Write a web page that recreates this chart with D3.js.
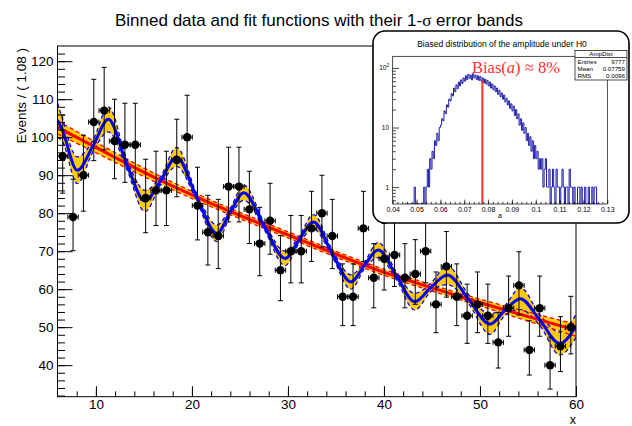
<!DOCTYPE html>
<html>
<head>
<meta charset="utf-8">
<script src="https://cdn.jsdelivr.net/npm/d3@7"></script>
<style>
body{margin:0;background:#fff}
svg text{font-family:"Liberation Sans",Arial,Helvetica,sans-serif;fill:#000}
</style>
</head>
<body>
<div id="chart"></div>
<script>
// binned data (events per bin of 1.08)
var binLow = 6, binWidth = 1.08;
var counts = [95,79,90,104,107,99,98,98,84,86,86,94,100,82,75,74,87,87,81,72,
              78,65,70,70,76,80,74,58,58,76,63,68,69,63,64,70,56,66,58,53,
              56,53,46,55,61,44,55,40,45,50];

// background fit (red)
var bkgX = [6, 10, 15.6, 20.8, 30, 39.6, 50, 60];
var bkgY = [102.6, 97.3, 90.0, 83.9, 74.3, 64.8, 56.5, 49.2];
var bkgErr = [1.7, 1.4, 1.1, 0.9, 0.8, 0.8, 0.9, 1.6];

// signal+background fit (blue): extrema and crossings
var sigX = [6.0,6.5,8.06,9.68,11.3,13.2,15.1,16.75,18.4,20.5,22.6,24.0,25.4,27.55,29.7,31.15,
            32.65,34.6,36.55,38.0,39.4,41.3,43.2,44.9,46.6,48.8,51.05,52.6,54.2,56.25,58.3,60.0];
var sigY = [104.5,101.9,91.3,97.6,104.7,93.0,83.2,88.6,94.8,84.2,74.7,80.3,85.4,76.5,68.1,72.9,
            77.7,69.5,61.9,66.4,70.3,63.5,56.7,60.5,63.7,57.4,50.8,54.4,57.5,51.8,45.7,50.3];
var sigErr = [4.5,3.0,3.5,1.5,3.3,1.3,2.8,1.1,2.5,1.0,2.2,1.0,2.0,0.9,1.9,0.9,
              1.9,0.9,1.9,0.9,2.0,1.0,2.2,1.1,2.5,1.2,2.7,1.3,2.9,1.4,3.0,3.0];

var xTicks = [10,20,30,40,50,60];
var yTicks = [40,50,60,70,80,90,100,110,120];

// inset histogram
var ampLow = 0.045, ampWidth = 0.0005;
var ampCounts = [0,0,0,0,0,0,0,0,1,0,
                 0,0,0,0,0,0,1,0,1,2,
                 1,3,2,4,3,6,5,8,6,10,
                 11,14,13,19,17,24,22,30,28,37,
                 34,46,40,52,45,58,50,63,55,68,
                 60,74,64,78,67,76,63,80,68,76,
                 64,74,62,72,60,68,56,65,54,62,
                 50,58,46,54,43,50,40,46,36,42,
                 33,38,30,35,27,31,24,28,21,25,
                 19,23,16,20,14,17,11,14,9,12,
                 8,10,6,8,5,7,4,6,3,5,
                 3,4,2,3,2,3,1,2,3,1,
                 1,2,0,1,2,1,0,2,1,1,
                 0,1,2,1,0,1,1,0,2,1,
                 1,0,1,0,0,1,1,0,1,0,
                 0,1,0,0,1,0,0,1,0,1,
                 1,0,0,0];
var ampTicks = [0.04,0.05,0.06,0.07,0.08,0.09,0.1,0.11,0.12,0.13];
var ampStats = [["Entries","9777"],["Mean","0.07759"],["RMS","0.0096"]];
var ampMean = 0.07759, biasTop = 62;

var W = 632, H = 426;
var svg = d3.select('#chart').append('svg').attr('width', W).attr('height', H);

var x = d3.scaleLinear().domain([6, 60]).range([57.5, 576]);
var y = d3.scaleLinear().domain([31.7, 124]).range([396.7, 46]);

svg.append('clipPath').attr('id','frameClip').append('rect')
  .attr('x', x(6)).attr('y', y(124)).attr('width', x(60)-x(6)).attr('height', y(31.7)-y(124));
var plot = svg.append('g').attr('clip-path','url(#frameClip)');

var bkg = d3.range(bkgX.length).map(function(i){ return {x:bkgX[i], y:bkgY[i], e:bkgErr[i]}; });
var sig = d3.range(sigX.length).map(function(i){ return {x:sigX[i], y:sigY[i], e:sigErr[i]}; });
var crv = d3.curveMonotoneX;

function band(d){ return d3.area().curve(crv).x(function(p){return x(p.x);})
  .y0(function(p){return y(p.y-p.e);}).y1(function(p){return y(p.y+p.e);})(d); }
function edge(d, s){ return d3.line().curve(crv).x(function(p){return x(p.x);})
  .y(function(p){return y(p.y+s*p.e);})(d); }
function mid(d){ return d3.line().curve(crv).x(function(p){return x(p.x);}).y(function(p){return y(p.y);})(d); }

plot.append('path').attr('d', band(bkg)).attr('fill', '#ffcc00');
plot.append('path').attr('d', band(sig)).attr('fill', '#ffcc00');
[1,-1].forEach(function(s){
  plot.append('path').attr('d', edge(bkg, s)).attr('fill','none').attr('stroke','#ff0000')
    .attr('stroke-width',1.3).attr('stroke-dasharray','4,3');
  plot.append('path').attr('d', edge(sig, s)).attr('fill','none').attr('stroke','#0000ff')
    .attr('stroke-width',1.3).attr('stroke-dasharray','4,3');
});
plot.append('path').attr('d', mid(bkg)).attr('fill','none').attr('stroke','#ff0000').attr('stroke-width',3);
plot.append('path').attr('d', mid(sig)).attr('fill','none').attr('stroke','#0000ff').attr('stroke-width',3);

// poisson 68% interval (Wilson-Hilferty)
function lowErr(n){ return n*Math.pow(1-1/(9*n)-1/(3*Math.sqrt(n)),3); }
function upErr(n){ var m=n+1; return m*Math.pow(1-1/(9*m)+1/(3*Math.sqrt(m)),3); }

var pts = plot.selectAll('.pt').data(counts).enter().append('g').attr('class','pt');
pts.each(function(n, i){
  var g = d3.select(this);
  var cx = x(binLow + binWidth*(i+0.5)), cy = y(n);
  var xl = x(binLow + binWidth*i), xr = x(binLow + binWidth*(i+1));
  var yl = y(lowErr(n)), yu = y(upErr(n));
  var st = {stroke:'#000','stroke-width':1};
  function ln(x1,y1,x2,y2){ var l=g.append('line').attr('x1',x1).attr('y1',y1).attr('x2',x2).attr('y2',y2);
    for (var k in st) l.attr(k, st[k]); }
  ln(cx, yu, cx, yl); ln(cx-2.5, yu, cx+2.5, yu); ln(cx-2.5, yl, cx+2.5, yl);
  ln(xl, cy, xr, cy); ln(xl, cy-2.5, xl, cy+2.5); ln(xr, cy-2.5, xr, cy+2.5);
  g.append('circle').attr('cx', cx).attr('cy', cy).attr('r', 4.2).attr('fill', '#000');
});

// frame and axes
svg.append('rect').attr('x', x(6)).attr('y', y(124)).attr('width', x(60)-x(6)).attr('height', y(31.7)-y(124))
  .attr('fill','none').attr('stroke','#000').attr('stroke-width',1);

var ax = svg.append('g').attr('transform','translate(0,'+y(31.7)+')')
  .call(d3.axisBottom(x).tickValues(xTicks).tickSize(-10.5).tickPadding(3));
svg.append('g').attr('transform','translate(0,'+y(31.7)+')')
  .call(d3.axisBottom(x).tickValues(d3.range(8, 60, 2)).tickSize(-5.3).tickFormat(''));
var ay = svg.append('g').attr('transform','translate('+x(6)+',0)')
  .call(d3.axisLeft(y).tickValues(yTicks).tickSize(-15).tickPadding(4));
svg.append('g').attr('transform','translate('+x(6)+',0)')
  .call(d3.axisLeft(y).tickValues(d3.range(32, 124, 2)).tickSize(-7.5).tickFormat(''));
svg.selectAll('.domain').remove();
svg.selectAll('.tick line').attr('stroke','#000');
ax.selectAll('text').style('font-size','13.5px');
ay.selectAll('text').style('font-size','13.5px');

svg.append('text').attr('x', 576).attr('y', 424.3).attr('text-anchor','end').style('font-size','12.5px').text('x');
svg.append('text').attr('transform','translate(26,48) rotate(-90)').attr('text-anchor','end')
  .style('font-size','13.5px').text('Events / ( 1.08 )');

var title = svg.append('text').attr('x', 319).attr('y', 26).attr('text-anchor','middle').style('font-size','17px');
title.append('tspan').text('Binned data and fit functions with their 1-');
title.append('tspan').style('font-family','"Liberation Serif","Times New Roman",serif').text('\u03c3');
title.append('tspan').text(' error bands');

// inset
var ins = svg.append('g');
ins.append('rect').attr('x',373).attr('y',31).attr('width',256).attr('height',192).attr('rx',12)
  .attr('fill','#fff').attr('stroke','#000').attr('stroke-width',1.6);
ins.append('text').attr('x', 502).attr('y', 46.5).attr('text-anchor','middle').style('font-size','8.5px')
  .text('Biased distribution of the amplitude under H0');

var ax2 = d3.scaleLinear().domain([0.04, 0.13]).range([392.7, 607.3]);
var ay2 = d3.scaleLog().domain([0.52, 157]).range([204, 56.3]).clamp(true);

ins.append('clipPath').attr('id','insClip').append('rect')
  .attr('x',392.7).attr('y',56.3).attr('width',214.6).attr('height',147.7);
var hpts = ampCounts.map(function(c,i){ return [ampLow + ampWidth*i, c]; });
hpts.push([ampLow + ampWidth*ampCounts.length, 0]);
var hline = d3.line().curve(d3.curveStepAfter).x(function(p){return ax2(p[0]);})
  .y(function(p){ return p[1] > 0 ? ay2(p[1]) : 204; });
ins.append('g').attr('clip-path','url(#insClip)').append('path')
  .attr('d', hline([[ampLow,0]].concat(hpts))).attr('fill','none').attr('stroke','#1c1ca8').attr('stroke-width',1);

ins.append('line').attr('x1', ax2(ampMean)).attr('x2', ax2(ampMean)).attr('y1', 204).attr('y2', ay2(biasTop))
  .attr('stroke','#ff3030').attr('stroke-width',2);

ins.append('rect').attr('x',392.7).attr('y',56.3).attr('width',214.6).attr('height',147.7)
  .attr('fill','none').attr('stroke','#000').attr('stroke-width',0.7);

var ix = ins.append('g').attr('transform','translate(0,204)')
  .call(d3.axisBottom(ax2).tickValues(ampTicks).tickSize(-4.4).tickPadding(3)
  .tickFormat(function(d){ return d3.format('.2~f')(d); }));
ins.append('g').attr('transform','translate(0,204)')
  .call(d3.axisBottom(ax2).tickValues(d3.range(0.042, 0.13, 0.002)).tickSize(-2.2).tickFormat(''));
var majY = [1, 10, 100];
var minY = ay2.ticks().filter(function(v){ return majY.indexOf(v) < 0 && v >= 0.52 && v <= 157; });
var iy = ins.append('g').attr('transform','translate(392.7,0)')
  .call(d3.axisLeft(ay2).tickValues(majY).tickSize(-6.4).tickPadding(3).tickFormat(''));
ins.append('g').attr('transform','translate(392.7,0)')
  .call(d3.axisLeft(ay2).tickValues(minY).tickSize(-3.2).tickFormat(''));
ins.selectAll('.domain').remove();
ins.selectAll('.tick line').attr('stroke','#000').attr('stroke-width',0.7);
ix.selectAll('text').style('font-size','7px');
majY.forEach(function(v){
  var t = ins.append('text').attr('x', 389).attr('y', ay2(v)+2.5).attr('text-anchor','end').style('font-size','6.5px');
  if (v === 100) { t.append('tspan').text('10'); t.append('tspan').attr('dy',-3).style('font-size','4.5px').text('2'); }
  else t.text(String(v));
});
ins.append('text').attr('x', 500).attr('y', 218).attr('text-anchor','middle').style('font-size','7px').text('a');

// stats box
ins.append('rect').attr('x',575).attr('y',50.5).attr('width',52).attr('height',29.5)
  .attr('fill','#fff').attr('stroke','#000').attr('stroke-width',0.7);
ins.append('line').attr('x1',575).attr('x2',627).attr('y1',57.5).attr('y2',57.5).attr('stroke','#000').attr('stroke-width',0.7);
ins.append('text').attr('x',601).attr('y',56.3).attr('text-anchor','middle').style('font-size','6.2px').text('AmpDist');
ampStats.forEach(function(r, i){
  ins.append('text').attr('x',577.5).attr('y',64.3+i*7).style('font-size','6.2px').text(r[0]);
  ins.append('text').attr('x',625).attr('y',64.3+i*7).attr('text-anchor','end').style('font-size','6.2px').text(r[1]);
});

var bias = ins.append('text').attr('x', 472).attr('y', 72.5)
  .style('font-family','"Liberation Serif","Times New Roman",serif').style('font-size','16.5px').style('fill','#ff3030');
bias.append('tspan').style('fill','#ff3030').text('Bias(');
bias.append('tspan').style('fill','#ff3030').style('font-style','italic').text('a');
bias.append('tspan').style('fill','#ff3030').text(') \u2248 8%');
</script>
</body>
</html>
